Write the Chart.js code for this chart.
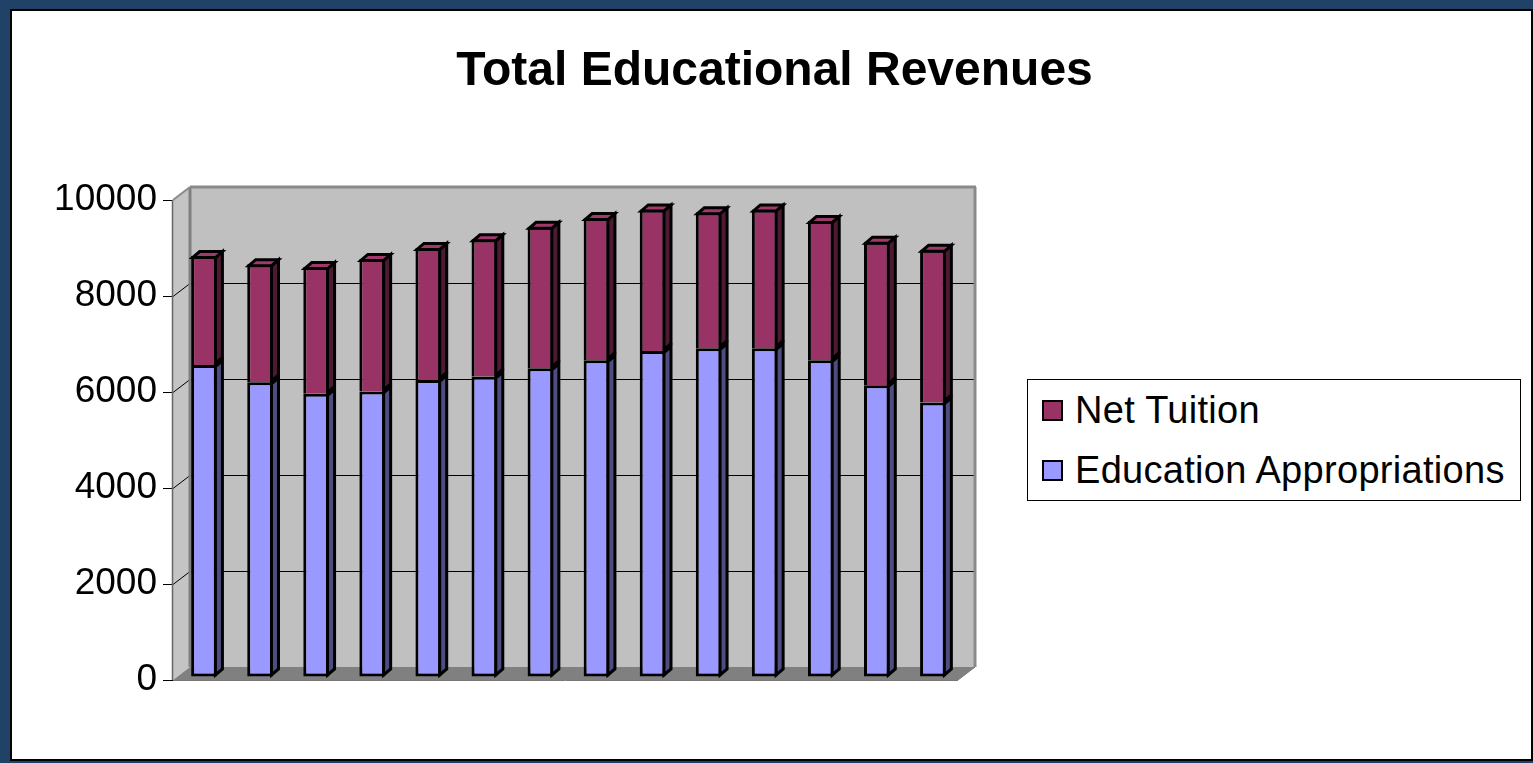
<!DOCTYPE html>
<html>
<head>
<meta charset="utf-8">
<title>Total Educational Revenues</title>
<script src="https://cdn.jsdelivr.net/npm/chart.js@4"></script>
<style>
  html, body { margin: 0; padding: 0; }
  body { width: 1533px; height: 763px; background: #204266; position: relative; overflow: hidden; }
  #frame {
    position: absolute; left: 10px; top: 9px; width: 1523px; height: 752px;
    box-sizing: border-box; border: 2px solid #000; background: #fff;
  }
  #revenues { position: absolute; left: 0; top: 0; }
  #legend {
    position: absolute; left: 1027px; top: 379px; width: 494px; height: 122px;
    box-sizing: border-box; border: 1px solid #000; background: #fff;
    font-family: 'Liberation Sans', Arial, sans-serif; font-size: 38px; letter-spacing: 0.3px;
  }
  #legend .row { height: 60px; display: flex; align-items: center; padding-left: 14px; }
  #legend .swatch { width: 21px; height: 21px; box-sizing: border-box; border: 2px solid #000; margin-right: 12px; }
</style>
</head>
<body>
<div id="frame">
  <canvas id="revenues" width="1519" height="748"></canvas>
</div>
<div id="legend"></div>
<script>
// per-FTE revenue, one bar per fiscal year
const years = ['1992', '1993', '1994', '1995', '1996', '1997', '1998', '1999', '2000', '2001', '2002', '2003', '2004', '2005'];
const appropriations = [6500, 6140, 5900, 5950, 6190, 6260, 6430, 6600, 6790, 6850, 6850, 6600, 6080, 5720];
const netTuition = [2270, 2460, 2640, 2760, 2750, 2860, 2950, 2960, 2950, 2830, 2890, 2900, 2990, 3180];
const yTicks = [0, 2000, 4000, 6000, 8000, 10000];
const titleText = 'Total Educational Revenues';

const FONT = "'Liberation Sans', Arial, sans-serif";
const WALL_DX = 17, WALL_DY = -13;   // depth of the back wall
const BAR_DX = 7, BAR_DY = -6;       // depth of each column
const SHIFT_X = 3, SHIFT_Y = -3;     // columns sit a little behind the front plane
const EDGE = 3;                      // column outline width

function poly(ctx, pts, fill, stroke, lw) {
    ctx.beginPath();
    ctx.moveTo(pts[0][0], pts[0][1]);
    for (let i = 1; i < pts.length; i++) ctx.lineTo(pts[i][0], pts[i][1]);
    ctx.closePath();
    if (fill) { ctx.fillStyle = fill; ctx.fill(); }
    if (stroke) { ctx.strokeStyle = stroke; ctx.lineWidth = lw || 1; ctx.stroke(); }
}

function seg(ctx, x1, y1, x2, y2, color, lw) {
    ctx.beginPath();
    ctx.moveTo(x1, y1);
    ctx.lineTo(x2, y2);
    ctx.strokeStyle = color;
    ctx.lineWidth = lw;
    ctx.stroke();
}

// centred over the whole canvas, not just the plot
const centredTitle = {
    id: 'centredTitle',
    afterDraw(chart) {
        const { ctx, width } = chart;
        ctx.save();
        ctx.font = 'bold 48px ' + FONT;
        ctx.fillStyle = '#000';
        ctx.textAlign = 'center';
        ctx.textBaseline = 'alphabetic';
        ctx.fillText(titleText, width / 2 + 3, 74);
        ctx.restore();
    }
};

// walls, floor and back gridlines, then fake depth on the columns
const box3d = {
    id: 'box3d',
    beforeDatasetsDraw(chart) {
        const { ctx, chartArea: a, scales: { y } } = chart;
        const yMax = yTicks[yTicks.length - 1];
        const top = y.getPixelForValue(yMax), bot = y.getPixelForValue(0);
        const L = a.left, R = a.right;

        ctx.save();
        poly(ctx, [[L, bot], [L, top], [L + WALL_DX, top + WALL_DY], [L + WALL_DX, bot + WALL_DY]], '#c4c4c4');
        ctx.fillStyle = '#c0c0c0';
        ctx.fillRect(L + WALL_DX, top + WALL_DY, R - L, bot - top);
        poly(ctx, [[L, bot], [R, bot], [R + WALL_DX, bot + WALL_DY], [L + WALL_DX, bot + WALL_DY]], '#808080');

        yTicks.forEach(v => {
            if (v <= 0 || v >= yMax) return;
            const p = Math.round(y.getPixelForValue(v)) + 0.5;
            seg(ctx, L, p, L + WALL_DX, p + WALL_DY, '#000', 1);
            seg(ctx, L + WALL_DX, p + WALL_DY, R + WALL_DX, p + WALL_DY, '#000', 1);
        });

        // wall edges
        seg(ctx, L + WALL_DX, top + WALL_DY, L + WALL_DX, bot + WALL_DY, '#808080', 3);
        seg(ctx, L + WALL_DX, top + WALL_DY, R + WALL_DX + 1, top + WALL_DY, '#8a8a8a', 3);
        seg(ctx, R + WALL_DX, top + WALL_DY, R + WALL_DX, bot + WALL_DY, '#8a8a8a', 3);
        seg(ctx, L, top, L + WALL_DX, top + WALL_DY, '#8a8a8a', 2);
        seg(ctx, L - 0.5, top, L - 0.5, bot, '#666', 1.5);
        seg(ctx, L, bot + 0.5, R, bot + 0.5, '#777', 1);
        seg(ctx, R, bot, R + WALL_DX, bot + WALL_DY, '#777', 1);
        ctx.restore();

        ctx.save();
        ctx.translate(SHIFT_X, SHIFT_Y);
    },
    afterDatasetsDraw(chart) {
        const { ctx } = chart;
        const last = chart.data.datasets.length - 1;
        const h = EDGE / 2;
        ctx.lineJoin = 'miter';
        chart.data.datasets.forEach((ds, di) => {
            chart.getDatasetMeta(di).data.forEach(bar => {
                const { x, y, base, width } = bar.getProps(['x', 'y', 'base', 'width'], true);
                const l = x - width / 2 + h, r = x + width / 2 - h;
                const t = Math.min(y, base) + h, b = Math.max(y, base) - h;
                poly(ctx, [[r, t], [r + BAR_DX, t + BAR_DY], [r + BAR_DX, b + BAR_DY], [r, b]], ds.sideColor, '#000', EDGE);
                if (di === last) {
                    poly(ctx, [[l, t], [r, t], [r + BAR_DX, t + BAR_DY], [l + BAR_DX, t + BAR_DY]], ds.topColor, '#000', EDGE);
                }
            });
        });
        ctx.restore();
    }
};

const chart = new Chart(document.getElementById('revenues'), {
    type: 'bar',
    data: {
        labels: years,
        datasets: [
            {
                label: 'Education Appropriations',
                data: appropriations,
                backgroundColor: '#9999ff',
                sideColor: '#4d4d80',
                topColor: '#9999ff',
                borderColor: '#000',
                borderWidth: EDGE,
                borderSkipped: false,
                barPercentage: 0.46,
                categoryPercentage: 1,
                clip: false
            },
            {
                label: 'Net Tuition',
                data: netTuition,
                backgroundColor: '#993366',
                sideColor: '#4d1a33',
                topColor: '#a03a6c',
                borderColor: '#000',
                borderWidth: EDGE,
                borderSkipped: 'start',
                barPercentage: 0.46,
                categoryPercentage: 1,
                clip: false
            }
        ]
    },
    options: {
        responsive: false,
        animation: false,
        devicePixelRatio: 1,
        layout: {
            padding: { left: 0, right: 573, top: 189, bottom: 79 }
        },
        plugins: {
            legend: { display: false },
            tooltip: { enabled: false },
            title: { display: false }
        },
        scales: {
            x: {
                stacked: true,
                display: false
            },
            y: {
                stacked: true,
                min: 0,
                max: 10000,
                afterFit(scale) { scale.width = 161; },
                afterBuildTicks(scale) { scale.ticks = yTicks.map(v => ({ value: v })); },
                border: { display: false },
                grid: {
                    drawOnChartArea: false,
                    drawTicks: true,
                    tickLength: 10,
                    color: '#000',
                    lineWidth: 1
                },
                ticks: {
                    color: '#000',
                    padding: 6,
                    font: { family: FONT, size: 37 },
                    callback: v => String(v)
                }
            }
        }
    },
    plugins: [box3d, centredTitle]
});

// legend box, top series first
const legend = document.getElementById('legend');
chart.data.datasets.slice().reverse().forEach(ds => {
    const row = document.createElement('div');
    row.className = 'row';
    const sw = document.createElement('span');
    sw.className = 'swatch';
    sw.style.background = ds.backgroundColor;
    const txt = document.createElement('span');
    txt.textContent = ds.label;
    row.appendChild(sw);
    row.appendChild(txt);
    legend.appendChild(row);
});
</script>
</body>
</html>
